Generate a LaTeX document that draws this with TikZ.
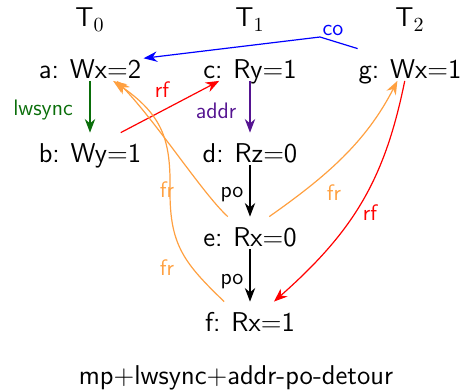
\documentclass[tikz,border=0pt]{standalone}
\usepackage{fontspec}
\usetikzlibrary{arrows.meta}
\definecolor{lwgreen}{RGB}{10,110,10}
\definecolor{addrpurple}{RGB}{85,20,145}
\definecolor{frorange}{RGB}{255,160,64}
\newcommand\evfont{\sffamily\fontsize{13.6}{15}\selectfont}
\newcommand\lbfont{\sffamily\fontsize{11.2}{12}\selectfont}
\newcommand\evgap{\hspace{0.4em}}
\begin{document}
\begin{tikzpicture}[x=0.5pt,y=-0.5pt,
  event/.style={font=\evfont, inner xsep=1pt, inner ysep=0pt, text height=15pt, text depth=0.75pt, anchor=base},
  thread/.style={font=\evfont, anchor=base},
  lbl/.style={font=\lbfont},
  edge/.style={line width=0.6pt, -{Stealth[length=6.8pt,width=5.2pt]}},
]
\useasboundingbox (0,0) rectangle (462,390);
% threads
\node[thread] (t0) at (90,27) {T$_0$};
\node[thread] (t1) at (250,27) {T$_1$};
\node[thread] (t2) at (410,27) {T$_2$};
% events
\node[event] (a) at (90,79) {a:\evgap Wx=2};
\node[event] (c) at (250,79) {c:\evgap Ry=1};
\node[event] (g) at (410,79) {g:\evgap Wx=1};
\node[event] (b) at (90,163) {b:\evgap Wy=1};
\node[event] (d) at (250,163) {d:\evgap Rz=0};
\node[event] (e) at (250,247) {e:\evgap Rx=0};
\node[event] (f) at (250,332) {f:\evgap Rx=1};
% straight edges
\draw[edge, lwgreen] (a) -- (b);
\node[lbl, text=lwgreen] (llw) at (43,110) {lwsync};
\draw[edge, red] (b) -- (c);
\node[lbl, text=red] (lrf1) at (162,90) {rf};
\draw[edge, addrpurple] (c) -- (d);
\node[lbl, text=addrpurple] (laddr) at (216,111) {addr};
\draw[edge] (d) -- (e);
\node[lbl] (lpo1) at (232,195) {po};
\draw[edge] (e) -- (f);
\node[lbl] (lpo2) at (232,282) {po};
% co
\coordinate (cok) at (320,37);
\draw[edge, blue] (g) -- (cok) -- (a);
\node[lbl, text=blue] (lco) at (333,30) {co};
% fr edges
\draw[edge, frorange] (e.144) .. controls (203,194) and (158,124) .. (a.-31);
\draw[edge, frorange] (f.148) .. controls (184,263) and (170,245) .. (170,192) .. controls (171,140) and (163,115) .. (a.-35);
\node[lbl, text=frorange] (lfr1) at (167,190) {fr};
\node[lbl, text=frorange] (lfr2) at (167,268) {fr};
\draw[edge, frorange] (e.40) .. controls (327,176) and (366,142) .. (g.232);
\node[lbl, text=frorange] (lfr3) at (334,193) {fr};
% rf g->f
\draw[edge, red] (g.252) .. controls (385,178) and (355,230) .. (f.34);
\node[lbl, text=red] (lrf2) at (370,213) {rf};
% caption
\node[thread] (cap) at (236,385) {mp+lwsync+addr-po-detour};
\end{tikzpicture}
\end{document}
